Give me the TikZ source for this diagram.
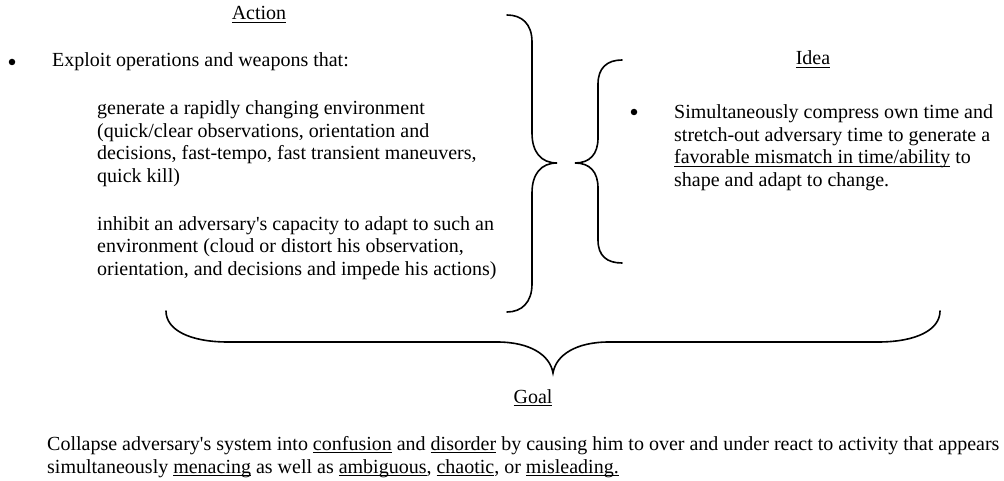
\documentclass[tikz,border=0pt]{standalone}
\usepackage{fontspec}
\setmainfont{Liberation Serif}
\newcommand\myul[1]{\setbox0\hbox{#1}\rlap{\rule[-2.6pt]{\wd0}{1pt}}\box0\relax}
\newcommand\q{\textquotesingle}
\begin{document}
\begin{tikzpicture}[x=1pt,y=-1pt,
  txt/.style={inner sep=0pt,anchor=base west,font=\fontsize{20}{23}\selectfont},
  ctr/.style={inner sep=0pt,anchor=base,font=\fontsize{20}{23}\selectfont},
  bul/.style={circle,fill=black,inner sep=0pt,minimum size=6.5pt},
  brace/.style={line width=1.6pt,line cap=round}]
\useasboundingbox (0,0) rectangle (1004,481);
% Action
\node[ctr] (action) at (259,20) {\myul{Action}};
\node[bul] (b1) at (12,62) {};
\node[txt] (ex) at (52,67) {Exploit operations and weapons that:};
\node[txt] (g1) at (97,115) {generate a rapidly changing environment};
\node[txt] (g2) at (97,137.5) {(quick/clear observations, orientation and};
\node[txt] (g3) at (97,160) {decisions, fast-tempo, fast transient maneuvers,};
\node[txt] (g4) at (97,182.7) {quick kill)};
\node[txt] (i1) at (97,230) {inhibit an adversary\q s capacity to adapt to such an};
\node[txt] (i2) at (97,252.7) {environment (cloud or distort his observation,};
\node[txt] (i3) at (97,275.5) {orientation, and decisions and impede his actions)};
% Idea
\node[ctr] (idea) at (813,65) {\myul{Idea}};
\node[bul] (b2) at (634,112) {};
\node[txt] (s1) at (674,118.3) {Simultaneously compress own time and};
\node[txt] (s2) at (674,141.5) {stretch-out adversary time to generate a};
\node[txt] (s3) at (674,164) {\myul{favorable mismatch in time/ability} to};
\node[txt] (s4) at (674,186.7) {shape and adapt to change.};
% Goal
\node[ctr] (goal) at (533,403) {\myul{Goal}};
\node[txt] (c1) at (47,450) {Collapse adversary\q s system into \myul{confusion} and \myul{disorder} by causing him to over and under react to activity that appears};
\node[txt] (c2) at (47,473) {simultaneously \myul{menacing} as well as \myul{ambiguous}, \myul{chaotic}, or \myul{misleading.}};
% big right brace
\coordinate (R1) at (507,15);
\coordinate (Rc) at (557,163);
\coordinate (R2) at (507,312);
\draw[brace] (R1) .. controls (522,15) and (532,24) .. (532,42) -- (532,133)
  .. controls (532,152) and (541,163) .. (Rc)
  .. controls (541,163) and (532,174) .. (532,193) -- (532,284)
  .. controls (532,302) and (522,312) .. (R2);
% left brace (Idea)
\coordinate (L1) at (622,60);
\coordinate (Lc) at (575,163);
\coordinate (L2) at (622,263);
\draw[brace] (L1) .. controls (607,60) and (598,68) .. (598,84) -- (598,138)
  .. controls (598,154) and (590,163) .. (Lc)
  .. controls (590,163) and (598,172) .. (598,188) -- (598,240)
  .. controls (598,256) and (607,263) .. (L2);
% bottom brace (Goal)
\coordinate (B1) at (166,311);
\coordinate (Bc) at (553,373);
\coordinate (B2) at (940,311);
\draw[brace] (B1) .. controls (166,330) and (190,342) .. (228,342) -- (497,342)
  .. controls (530,342) and (550,355) .. (Bc)
  .. controls (556,355) and (576,342) .. (609,342) -- (878,342)
  .. controls (916,342) and (940,330) .. (B2);
\end{tikzpicture}
\end{document}
